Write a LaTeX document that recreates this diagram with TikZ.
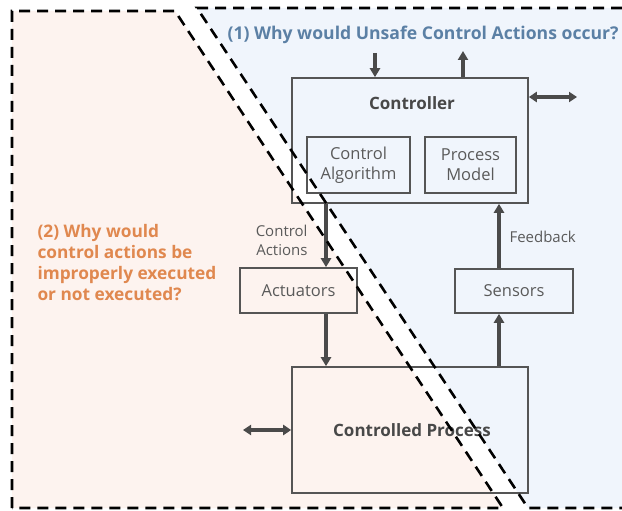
\documentclass[tikz,border=0pt]{standalone}
\usepackage{fontspec}
\setmainfont{Open Sans}
\usetikzlibrary{arrows.meta}
\definecolor{pinkbg}{HTML}{FDF3EF}
\definecolor{bluebg}{HTML}{F0F5FC}
\definecolor{boxline}{HTML}{555555}
\definecolor{flowcol}{HTML}{4A4A4A}
\definecolor{labelcol}{HTML}{5A5A5A}
\definecolor{qblue}{HTML}{5B80A5}
\definecolor{qorange}{HTML}{E0884F}

\begin{document}
\begin{tikzpicture}[x=1pt,y=-1pt,
        block/.style={rectangle,draw=boxline,line width=1.6pt,inner sep=0pt},
        flow/.style={draw=flowcol,line width=3.6pt,-{Triangle[length=9pt,width=10pt]}},
        flowboth/.style={draw=flowcol,line width=3.6pt,{Triangle[length=8pt,width=10pt]}-{Triangle[length=8pt,width=10pt]}},
        border/.style={black,line width=2.6pt,dash pattern=on 11pt off 7pt},
        lbl/.style={text=labelcol,font=\fontsize{16.5}{20}\selectfont,align=center},
        title/.style={text=labelcol!80!black,font=\fontsize{17}{20}\selectfont\bfseries}]
            \useasboundingbox (0,0) rectangle (622,511);
            % the two regions
            \fill [pinkbg] (12,11) -- (175,11) -- (503,508) -- (12,508) -- cycle;
            \fill [bluebg] (197,8) -- (622,8) -- (622,508) -- (528,508) -- cycle;

            \node [block,minimum width=236pt,minimum height=125pt] (Ctrl) at (410,140.5) {};
            \node [title] (CtrlTxt) at (412,103) {Controller};
            \node [block,lbl,minimum width=103pt,minimum height=56pt] (Alg) at (358.5,165) {Control\\Algorithm};
            \node [block,lbl,minimum width=91pt,minimum height=56pt] (Model) at (470.5,165) {Process\\Model};
            \node [block,lbl,minimum width=117pt,minimum height=45pt] (Act) at (298.5,290.5) {Actuators};
            \node [block,lbl,minimum width=118pt,minimum height=44pt] (Sens) at (514,291) {Sensors};
            \node [block,minimum width=236pt,minimum height=126pt] (Proc) at (410,430) {};
            \node [title] (ProcTxt) at (412,430) {Controlled Process};

            \node [lbl,font=\fontsize{15}{19}\selectfont,align=right,anchor=east] (CA) at (311,240) {Control\\Actions};
            \node [lbl,font=\fontsize{15}{18}\selectfont,anchor=west] (FB) at (506,237) {Feedback};

            \node [text=qblue,font=\fontsize{17.6}{20}\selectfont\bfseries,anchor=west] (Q1) at (224,35) {(1) Why would Unsafe Control Actions occur?};
            \node [text=qorange,font=\fontsize{17.3}{21}\selectfont\bfseries,align=left,anchor=west] (Q2) at (34,263) {(2) Why would\\control actions be\\improperly executed\\or not executed?};

            \coordinate (ca) at (326,0);
            \coordinate (fb) at (499,0);
            \coordinate (inA) at (375,53);
            \coordinate (outA) at (463,51);
            \coordinate (rt) at (577,97);
            \coordinate (lt) at (243,430);

            \draw [flow] (inA) -- (Ctrl.north -| inA);
            \draw [flow] (Ctrl.north -| outA) -- (outA);
            \draw [flowboth] (Ctrl.east |- rt) -- (rt);
            \draw [flow] (Ctrl.south -| ca) -- (Act.north -| ca);
            \draw [flow] (Act.south -| ca) -- (Proc.north -| ca);
            \draw [flow] (Proc.north -| fb) -- (Sens.south -| fb);
            \draw [flow] (Sens.north -| fb) -- (Ctrl.south -| fb);
            \draw [flowboth] (lt) -- (Proc.west);

            % dashed region borders
            \draw [border] (12,508) -- (12,11) -- (175,11) -- (503,508) -- cycle;
            \draw [border] (622,8) -- (197,8) -- (528,508) -- (622,508);
        \end{tikzpicture}
\end{document}
